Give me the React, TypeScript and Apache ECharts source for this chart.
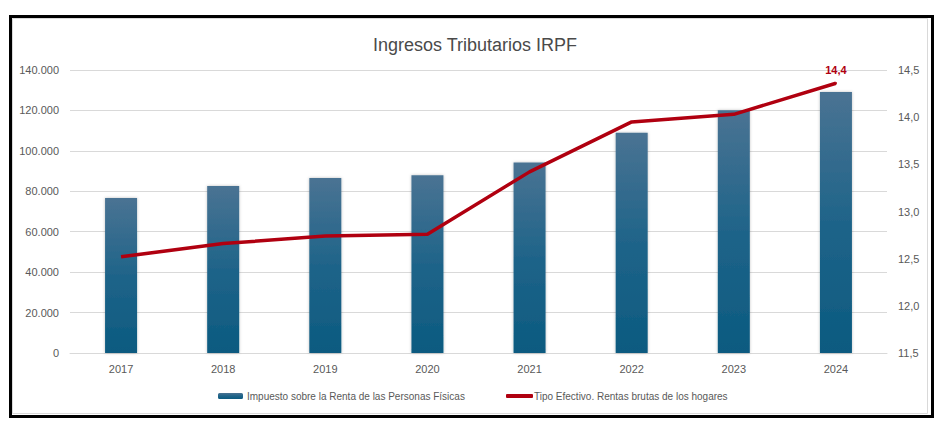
import React, { useEffect, useRef } from "react";
import * as echarts from "echarts";

const years = ["2017", "2018", "2019", "2020", "2021", "2022", "2023", "2024"];
const irpfValues = [76700, 82600, 86600, 87900, 94300, 109000, 120050, 129100];
const tipoEfectivo = [12.52, 12.66, 12.74, 12.76, 13.42, 13.95, 14.03, 14.36];
const lastLabel = "14,4";
const barName = "Impuesto sobre la Renta de las Personas Físicas";
const lineName = "Tipo Efectivo. Rentas brutas de los hogares";
const titleText = "Ingresos Tributarios IRPF";

const FONT = "Liberation Sans, Arial, sans-serif";
const GREY = "#595959";
const RED = "#b00010";

export default function App() {
  const ref = useRef<HTMLDivElement>(null);
  useEffect(() => {
    document.body.style.margin = "0";
    const chart = echarts.init(ref.current!, null, { renderer: "svg" });
    const lineData = tipoEfectivo.map((v, i) =>
      i === tipoEfectivo.length - 1
        ? {
            value: v,
            symbol: "circle",
            symbolSize: 2,
            label: {
              show: true,
              position: "top",
              distance: 7,
              formatter: lastLabel,
              color: RED,
              fontWeight: "bold",
              fontSize: 11,
              fontFamily: FONT,
            },
          }
        : { value: v, symbol: "none" }
    );
    chart.setOption({
      animation: false,
      backgroundColor: "#ffffff",
      textStyle: { fontFamily: FONT },
      title: {
        text: titleText,
        left: 470,
        textAlign: "center",
        top: 31,
        textStyle: { fontSize: 18, fontWeight: "normal", color: "#4a4a4a", fontFamily: FONT },
      },
      graphic: [
        {
          type: "rect",
          shape: { x: 12.5, y: 18.5, width: 915, height: 395 },
          style: { fill: "none", stroke: "#d9d9d9", lineWidth: 1 },
          z: -1,
        },
        {
          type: "rect",
          shape: { x: 10.5, y: 16.5, width: 922, height: 400 },
          style: { fill: "none", stroke: "#000000", lineWidth: 3 },
          z: 100,
        },
      ],
      legend: [
        {
          data: [barName],
          left: 213,
          top: 386,
          itemWidth: 25,
          itemHeight: 6,
          itemGap: 0,
          textStyle: { fontSize: 10, color: GREY, fontFamily: FONT, padding: [0, 0, 0, -1] },
        },
        {
          data: [{ name: lineName, icon: "roundRect" }],
          left: 501,
          top: 386,
          itemWidth: 27,
          itemHeight: 4,
          textStyle: { fontSize: 10, color: GREY, fontFamily: FONT, padding: [0, 0, 0, -4] },
        },
      ],
      grid: { left: 70, right: 62, top: 70, bottom: 80 },
      xAxis: {
        type: "category",
        data: years,
        axisLine: { lineStyle: { color: "#d9d9d9" } },
        axisTick: { show: false },
        axisLabel: { color: GREY, fontSize: 11, margin: 10 },
      },
      yAxis: [
        {
          type: "value",
          min: 0,
          max: 140000,
          interval: 20000,
          axisLine: { show: false },
          axisTick: { show: false },
          splitLine: { lineStyle: { color: "#d9d9d9" } },
          axisLabel: {
            color: GREY,
            fontSize: 11,
            margin: 11,
            formatter: (v: number) => v.toString().replace(/\B(?=(\d{3})+(?!\d))/g, "."),
          },
        },
        {
          type: "value",
          min: 11.5,
          max: 14.5,
          interval: 0.5,
          position: "right",
          axisLine: { show: false },
          axisTick: { show: false },
          splitLine: { show: false },
          axisLabel: {
            color: GREY,
            fontSize: 11,
            margin: 11,
            formatter: (v: number) => v.toFixed(1).replace(".", ","),
          },
        },
      ],
      series: [
        {
          name: barName,
          type: "bar",
          data: irpfValues,
          yAxisIndex: 0,
          barWidth: 32,
          itemStyle: {
            color: new echarts.graphic.LinearGradient(0, 0, 0, 1, [
              { offset: 0, color: "#4a7393" },
              { offset: 0.5, color: "#1f6489" },
              { offset: 1, color: "#0b5a80" },
            ]),
            shadowBlur: 3,
            shadowColor: "rgba(0,0,0,0.25)",
          },
        },
        {
          name: lineName,
          type: "line",
          data: lineData,
          yAxisIndex: 1,
          showSymbol: true,
          symbol: "circle",
          symbolSize: 2,
          color: RED,
          itemStyle: { color: RED },
          lineStyle: { color: RED, width: 3.5 },
          z: 5,
        },
      ],
    });
    return () => chart.dispose();
  }, []);
  return <div ref={ref} style={{ width: 949, height: 433 }} />;
}
